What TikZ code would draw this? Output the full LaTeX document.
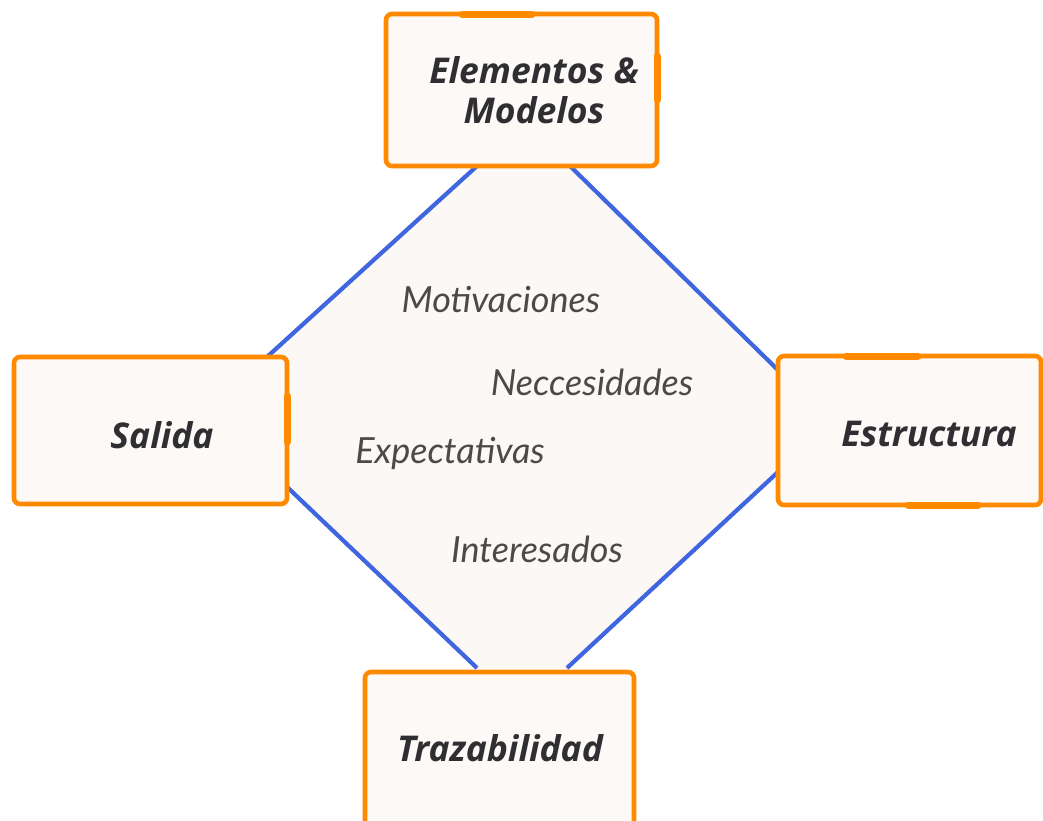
\documentclass[tikz,border=0pt]{standalone}
\usepackage{fontspec}
\setmainfont{Lato}
\newfontfamily\labelfont{Open Sans}
\usetikzlibrary{calc}
\definecolor{boxorange}{HTML}{FF8A00}
\definecolor{boxfill}{HTML}{FDF9F6}
\definecolor{diafill}{HTML}{FCF8F5}
\definecolor{linkblue}{HTML}{3F66DE}
\definecolor{labtext}{HTML}{2F2F33}
\definecolor{itext}{HTML}{4A4A4A}
\tikzset{
  x=1pt, y=-1pt,
  topicbox/.style={draw=boxorange, fill=boxfill, line width=4.6pt, rounded corners=6pt},
  accent/.style={draw=boxorange, line width=7pt, line cap=round},
  topiclabel/.style={font=\labelfont\bfseries\itshape\fontsize{35.5}{40}\selectfont, text=labtext, align=center},
  itemlabel/.style={font=\itshape\fontsize{36}{40}\selectfont, text=itext},
  link/.style={draw=linkblue, line width=4.2pt}
}
\begin{document}
\begin{tikzpicture}
\useasboundingbox (0,0) rectangle (1043,820);
\clip (0,0) rectangle (1043,820);
\fill[white] (0,0) rectangle (1043,820);
% link end points
\coordinate (t1) at (477,166);
\coordinate (t2) at (570,166);
\coordinate (r1) at (778,370);
\coordinate (r2) at (778,472);
\coordinate (b2) at (567,668);
\coordinate (b1) at (477,668);
\coordinate (l2) at (285,485);
\coordinate (l1) at (267,357);
% diamond fill
\fill[diafill] (t1) -- (t2) -- (r1) -- (r2) -- (b2) -- (b1) -- (l2) -- (l1) -- cycle;
\draw[link] (t1) -- (l1);
\draw[link] (t2) -- (r1);
\draw[link] (l2) -- (b1);
\draw[link] (r2) -- (b2);
% boxes
\draw[topicbox] (386,14) rectangle (657,166);
\draw[topicbox] (14,357) rectangle (287,504);
\draw[topicbox] (778,356) rectangle (1041,505);
\draw[topicbox] (365,672) rectangle (634,840);
% accents
\draw[accent] (462,14) -- (532,14);
\draw[accent] (657,56) -- (657,100);
\draw[accent] (287,396) -- (287,442);
\draw[accent] (846,356) -- (918,356);
\draw[accent] (908,505) -- (978,505);
% labels
\node[topiclabel] (em) at (534,90) {Elementos \&\\Modelos};
\node[topiclabel] (sa) at (162,435) {Salida};
\node[topiclabel] (es) at (929,434) {Estructura};
\node[topiclabel] (tr) at (500,748) {Trazabilidad};
\node[itemlabel] (mo) at (501,300) {Motivaciones};
\node[itemlabel] (ne) at (592,382) {Neccesidades};
\node[itemlabel] (ex) at (450,453) {Expectativas};
\node[itemlabel] (in) at (537,549) {Interesados};
\end{tikzpicture}
\end{document}
